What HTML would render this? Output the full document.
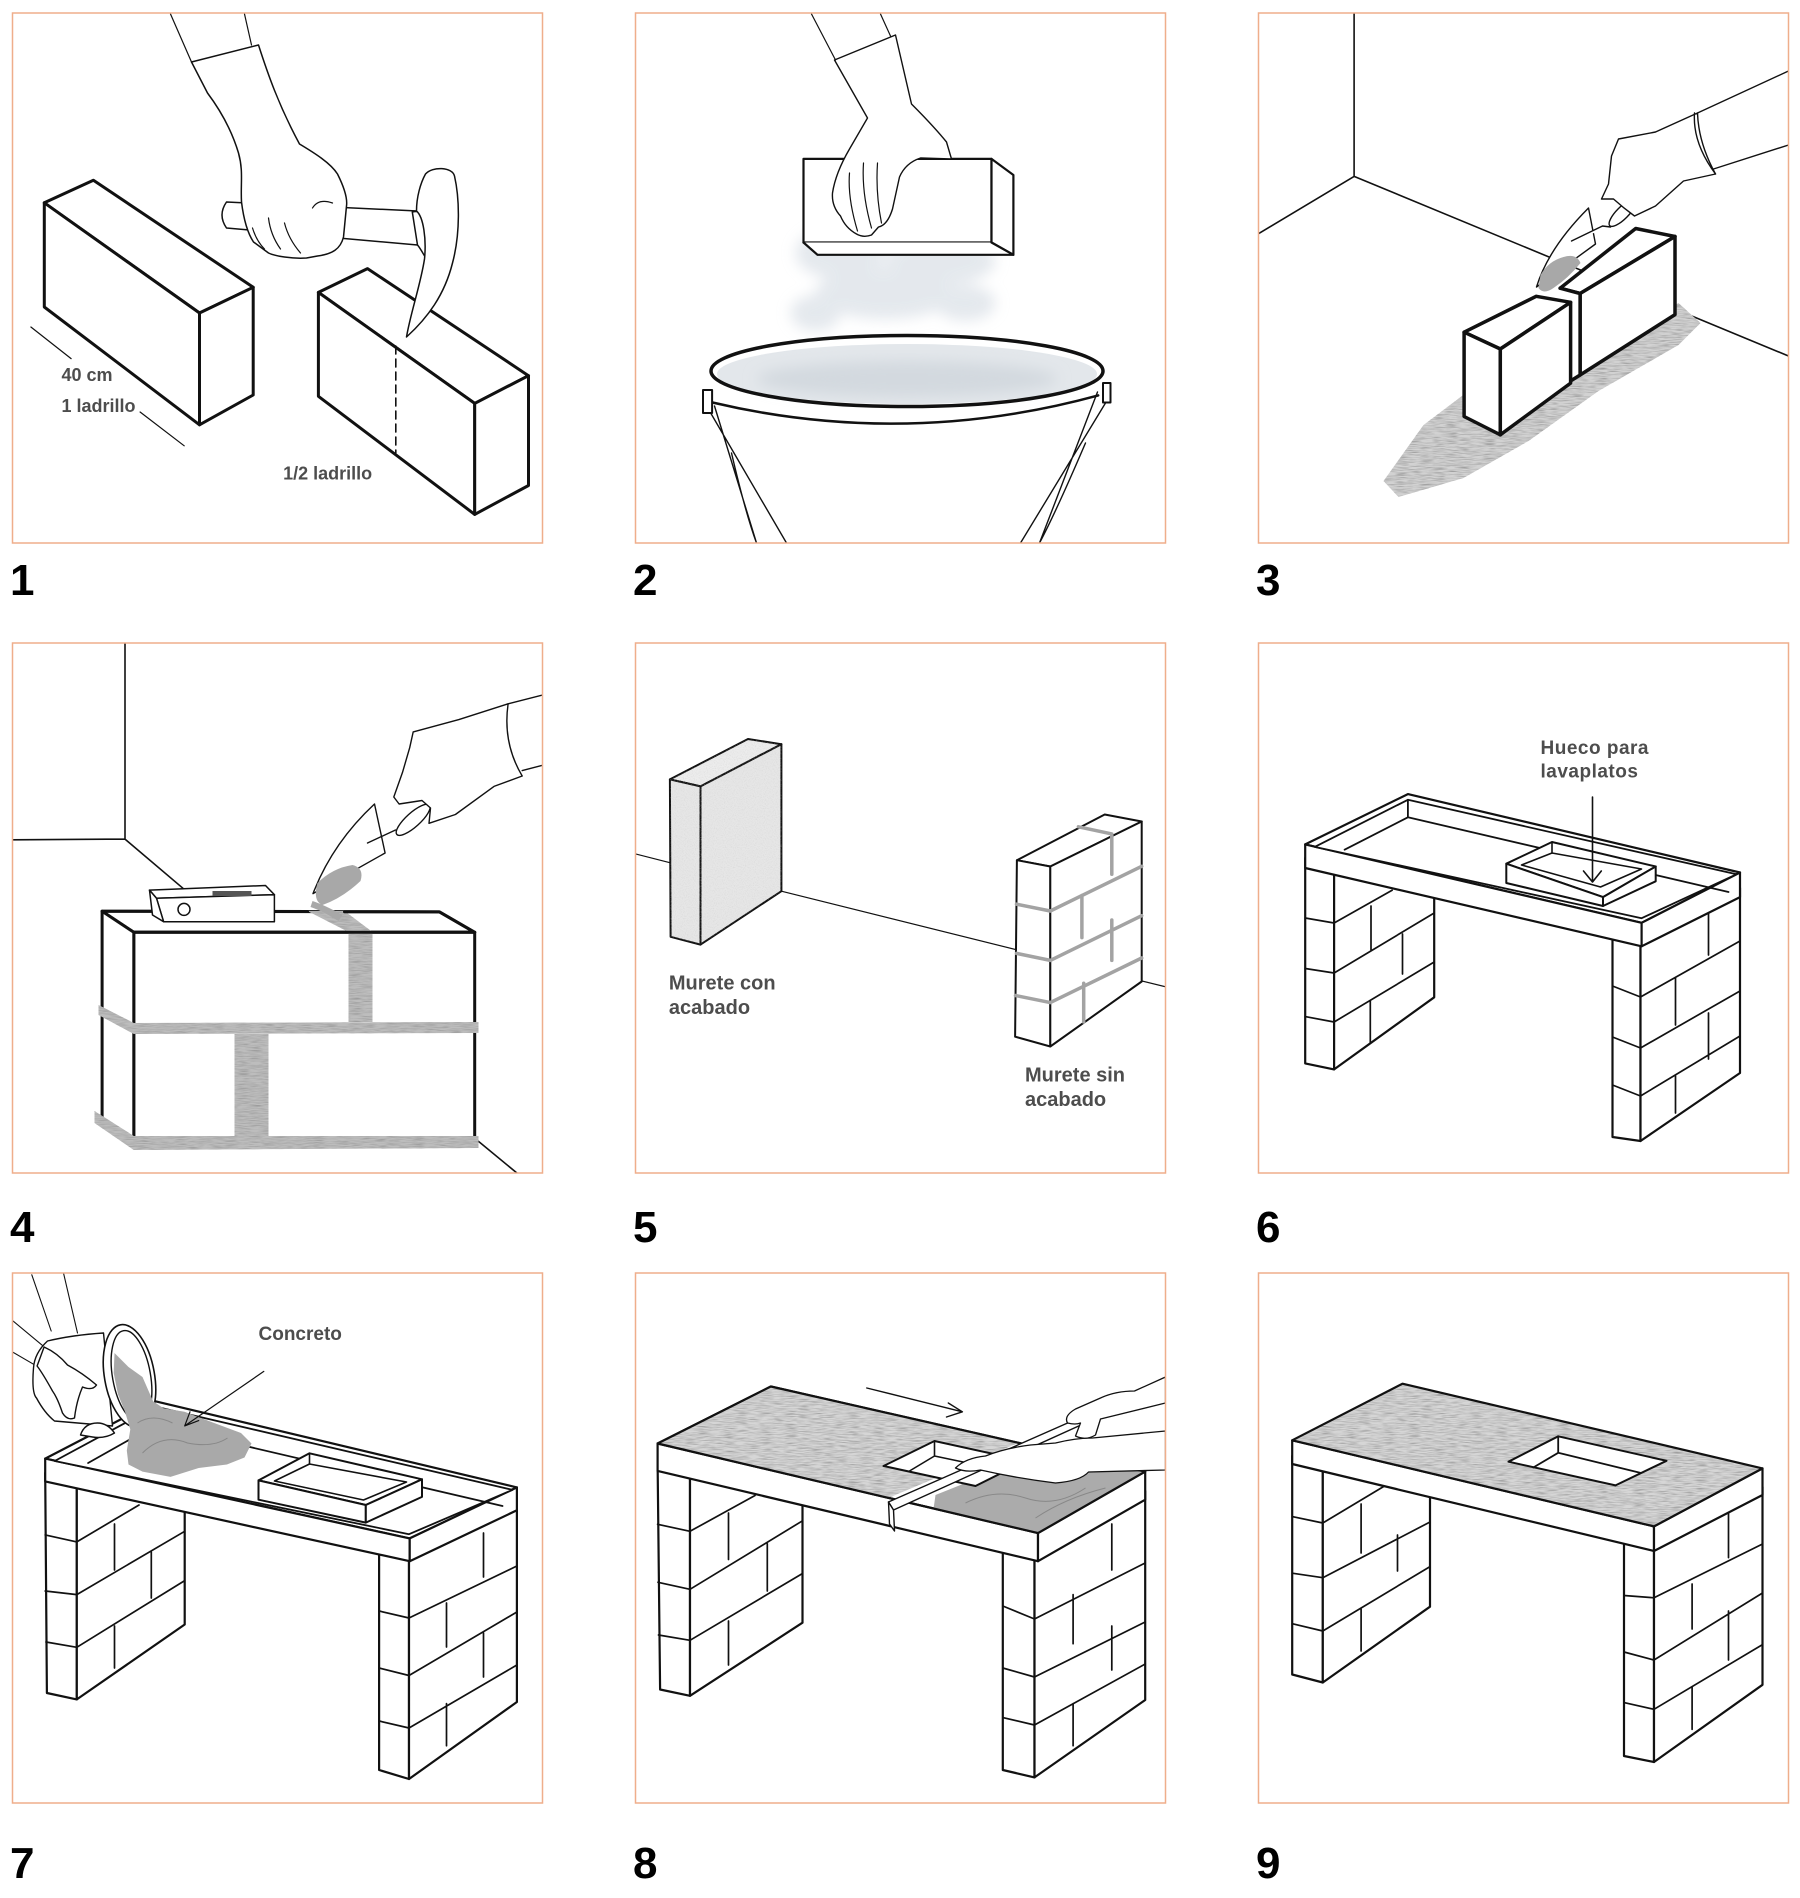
<!DOCTYPE html>
<html><head><meta charset="utf-8"><style>
html,body{margin:0;padding:0;background:#fff;}
svg{display:block;}
.b{fill:none;stroke:#efae8b;stroke-width:1.5}
.k{fill:#fff;stroke:#111;stroke-linejoin:round;stroke-linecap:round}
.l{fill:none;stroke:#111;stroke-linecap:round;stroke-linejoin:round}
.t{font-family:"Liberation Sans",sans-serif;font-weight:bold;fill:#4d4d4d}
.n{font-family:"Liberation Sans",sans-serif;font-weight:bold;fill:#000;font-size:44px}
</style></head><body>
<svg width="1800" height="1898" viewBox="0 0 1800 1898" xmlns="http://www.w3.org/2000/svg">
<defs>
<clipPath id="pc"><rect x="0" y="0" width="530" height="530"/></clipPath>
<filter id="gr" x="0" y="0" width="1" height="1">
<feTurbulence type="fractalNoise" baseFrequency="0.08 1.3" numOctaves="2" seed="4" result="t"/>
<feColorMatrix in="t" type="matrix" values="0 0 0 0 0.32  0 0 0 0 0.32  0 0 0 0 0.32  2.3 0 0 0 -0.95" result="c"/>
<feComposite in="c" in2="SourceAlpha" operator="in"/>
</filter>
<filter id="gl" x="0" y="0" width="1" height="1">
<feTurbulence type="fractalNoise" baseFrequency="0.9" numOctaves="1" seed="7" result="t"/>
<feColorMatrix in="t" type="matrix" values="0 0 0 0 0.6  0 0 0 0 0.6  0 0 0 0 0.6  1.2 0 0 0 -0.55" result="c"/>
<feComposite in="c" in2="SourceAlpha" operator="in"/>
</filter>
<filter id="bl" x="-30%" y="-30%" width="160%" height="160%"><feGaussianBlur stdDeviation="7"/></filter>
</defs>
<rect width="1800" height="1898" fill="#fff"/>

<!-- PANEL 1 -->
<g transform="translate(12.5,13)">
<g clip-path="url(#pc)">
<g class="k" stroke-width="3">
<path d="M31.8,189.8 L80.9,167.3 L240.7,274.3 L187,300 Z"/>
<path d="M31.8,189.8 L187,300 L187,411.8 L31.8,294 Z"/>
<path d="M187,300 L240.7,274.3 L240.7,382 L187,411.8 Z"/>
<path d="M305.9,279.4 L355,255.6 L516,362.7 L462.2,390.4 Z"/>
<path d="M305.9,279.4 L462.2,390.4 L462.2,501.4 L305.9,383.3 Z"/>
<path d="M462.2,390.4 L516,362.7 L516,472.5 L462.2,501.4 Z"/>
</g>
<path class="l" d="M383.3,333 L383.3,440" stroke-width="1.6" stroke-dasharray="8 5"/>
<path class="l" d="M18.4,314 L58.6,345.6 M127.6,399 L171.7,432.8" stroke-width="1.2"/>
<g class="k" stroke-width="1.5">
<path d="M214,189 L405,198 L405,232 L214,215 Q205,202 214,189 Z"/>
<path d="M399.8,199 C412,196 420,205 421,244 C418,260 412,240 405,232 Z"/>
<path d="M413,161 C420,153 440,154 442,163 C447,185 448,220 440,250 C432,282 415,305 394,324 C398,300 408,272 412,246 C414,226 411,204 404,198 C404,184 408,170 413,161 Z"/>
<path d="M179,49 L246,32 C255,60 266,92 287,131 C302,140 318,150 325,161 C332,175 335,186 334,193 L331,224 C328,236 320,241 305,243 L294,245 C280,246 262,243 256,240 L241,229 C235,220 231,205 229,189 C228,170 231,158 226,140 C220,120 210,100 195,80 Z"/>
</g>
<path class="l" stroke-width="1.2" d="M158,1 L179,49 M232,1 L239,32 M240,215 Q244,228 252,236 M256,205 Q258,222 268,236 M272,210 Q276,226 288,240 M300,195 Q306,185 320,190"/>
<text class="t" x="49" y="368" font-size="18">40 cm</text>
<text class="t" x="49" y="399" font-size="18">1 ladrillo</text>
<text class="t" x="270.6" y="466.5" font-size="18">1/2 ladrillo</text>
</g>
<rect class="b" x="0" y="0" width="530" height="530"/>
</g>

<!-- PANEL 2 -->
<g transform="translate(635.5,13)">
<g clip-path="url(#pc)">
<g filter="url(#bl)" fill="#d3dae2" opacity="0.6">
<ellipse cx="205" cy="240" rx="45" ry="26"/>
<ellipse cx="305" cy="248" rx="55" ry="24"/>
<ellipse cx="250" cy="280" rx="70" ry="26"/>
<ellipse cx="180" cy="300" rx="25" ry="18"/>
<ellipse cx="330" cy="290" rx="30" ry="18"/>
<ellipse cx="270" cy="218" rx="90" ry="12"/>
</g>
<ellipse cx="271.5" cy="361" rx="190" ry="30" fill="#e3e7eb"/>
<ellipse cx="271.5" cy="366" rx="150" ry="18" fill="#d3d9df" filter="url(#bl)"/>
<g class="k" stroke-width="2.2">
<path d="M168,145.9 L356,145.9 L356,229.5 L168,229.5 Z"/>
<path d="M356,145.9 L377.9,162 L377.9,241.8 L356,229.5 Z"/>
<path d="M168,229.5 L182,241.8 L377.9,241.8 L356,229.5"/>
</g>
<g class="k" stroke-width="1.4">
<path d="M199,47 L260,22 L276,91 Q298,113 311,129 L316,146 L285,145 Q270,150 264,164 L257,196 Q252,212 243,214 L236,222 Q228,225 221,221 Q210,215 205,203 Q196,193 197,180 Q200,160 214,136 L232,105 Z"/>
</g>
<path class="l" stroke-width="1.2" d="M176,1 L200,47 M245,1 L255,23 M214,160 Q212,185 222,218 M228,150 Q226,180 236,215 M242,150 Q240,180 246,210"/>
<path class="l" stroke-width="1.4" fill="none" d="M79,393 L121,530 M462,379 L404,530 M74,398 L151,530 M470,390 L385,530 M96,440 Q110,500 121,530 M450,430 Q420,500 404,530"/>
<path class="l" stroke-width="2.5" d="M77,389.5 Q270,435 462.7,382.4"/>
<ellipse cx="271.5" cy="358" rx="196" ry="35.5" fill="none" stroke="#111" stroke-width="3.5"/>
<path class="k" stroke-width="2" d="M67.5,377 L76.6,377 L76.6,400 L67.5,400 Z M467.5,370 L475,370 L475,389.5 L467.5,389.5 Z"/>
</g>
<rect class="b" x="0" y="0" width="530" height="530"/>
</g>

<!-- PANEL 3 -->
<g transform="translate(1258.5,13)">
<g clip-path="url(#pc)">
<path class="l" stroke-width="1.6" d="M95.6,0 L95.6,163.4 L0,220.7 M95.6,163.4 L530,343"/>
<path fill="#d2d2d2" d="M125,468 L165,412 L210,378 L300,350 L420,290 L442,310 L420,332 L340,378 L270,428 L205,465 L140,484 Z"/>
<path fill="#d2d2d2" filter="url(#gr)" d="M125,468 L165,412 L210,378 L300,350 L420,290 L442,310 L420,332 L340,378 L270,428 L205,465 L140,484 Z"/>
<g class="k" stroke-width="3.5">
<path d="M301.6,275.2 L377.2,215.5 L416.5,223.5 L321.6,280.5 Z"/>
<path d="M321.6,280.5 L416.5,223.5 L416.5,301.6 L321.6,362 Z"/>
<path d="M301.6,275.2 L321.6,280.5 L321.6,362 L312,368"/>
<path d="M205.6,319.2 L277.7,283.3 L312.1,289.3 L241.8,336 Z"/>
<path d="M205.6,319.2 L241.8,336 L241.8,421.8 L205.6,403.5 Z"/>
<path d="M241.8,336 L312.1,289.3 L312.1,370.1 L241.8,421.8 Z"/>
</g>
<g class="k" stroke-width="1.4">
<path d="M330,195 L337,231 L278,274 Q290,235 330,195 Z"/>
<path d="M313,228 L344,213 L352,214"/>
<ellipse cx="364" cy="200" rx="18" ry="6" transform="rotate(-45 364 200)"/>
<path d="M439,100 L397,119 L360,126 L353,143 L350,171 L343,186 L355,186 Q365,195 376,203 L397,193 L425,168 L457,161 Q440,130 439,100 Z"/>
</g>
<path fill="#a8a8a8" d="M282,262 Q290,248 305,244 Q318,240 322,250 Q310,265 295,275 Q285,282 280,275 Z"/>
<path class="l" stroke-width="1.4" d="M530,58 L439,100 M530,132 L455,156 M436,100 Q434,130 457,161"/>
</g>
<rect class="b" x="0" y="0" width="530" height="530"/>
</g>

<!-- PANEL 4 -->
<g transform="translate(12.5,643)">
<g clip-path="url(#pc)">
<path class="l" stroke-width="1.6" d="M112.5,0 L112.5,196.1 L0,196.8 M112.5,196.1 L170.5,245.3 M464,496.7 L504.4,530"/>
<g class="k" stroke-width="3">
<path d="M89.6,268.2 L427,268.9 L462.2,289.3 L121.3,289.3 Z"/>
<path d="M121.3,289.3 L462.2,289.3 L462.2,497 L121.3,497 Z"/>
<path d="M89.6,268.2 L121.3,289.3 L121.3,497 L89.6,475.6 Z"/>
</g>
<g fill="#bdbdbd">
<path d="M86,362 L121.3,380 L466,379 L466,390 L121.3,391 L86,372 Z"/>
<path d="M82,468 L121.3,493 L466,493 L466,505 L121.3,507 L82,480 Z"/>
<path d="M295,268 L332,268 L360,289 L360,379 L336,379 L336,289 Z"/>
<path d="M222,391 L256,391 L256,497 L222,497 Z"/>
</g>
<g fill="#bdbdbd" filter="url(#gr)">
<path d="M86,362 L121.3,380 L466,379 L466,390 L121.3,391 L86,372 Z"/>
<path d="M82,468 L121.3,493 L466,493 L466,505 L121.3,507 L82,480 Z"/>
<path d="M295,268 L332,268 L360,289 L360,379 L336,379 L336,289 Z"/>
<path d="M222,391 L256,391 L256,497 L222,497 Z"/>
</g>
<path class="l" stroke-width="3" d="M89.6,268.2 L295,268.5 M332,268.7 L427,268.9 L462.2,289.3 M121.3,289.3 L462.2,289.3"/>
<g class="k" stroke-width="1.5">
<path d="M137,247.1 L253,242.5 L261.9,251.7 L144,255.2 Z"/>
<path d="M144,255.2 L261.9,251.7 L261.9,278.7 L151.1,278.7 Z"/>
<path d="M137,247.1 L144,255.2 L151.1,278.7 L140,272 Z"/>
<circle cx="171.5" cy="266.4" r="6"/>
</g>
<rect x="200" y="248" width="39" height="5" fill="#555"/>
<g class="k" stroke-width="1.4">
<path d="M362,161 L372.6,210 L300.5,250.6 Q320,200 362,161 Z"/>
<path d="M355,200 L383,187"/>
<ellipse cx="400.7" cy="176.8" rx="22" ry="7" transform="rotate(-42 400.7 176.8)"/>
<path d="M495.6,60.8 L446.4,76.6 L400.7,88.9 L397.2,104.7 L390,129.4 L381.3,154 L386.6,161 L409.5,157.5 L418,165 L416.5,180.3 L442.9,171.5 L481.5,143.4 L509.7,133 Q490,100 495.6,60.8 Z"/>
</g>
<path class="l" stroke-width="1.4" d="M530,52 L495.6,60.8 M530,122.3 L509.7,127.6"/>
<path fill="#a8a8a8" d="M305,240 Q320,225 340,222 Q352,225 348,238 Q330,255 310,262 Q300,258 305,240 Z M300,258 Q312,262 330,272 L326,278 Q310,268 298,264 Z"/>
</g>
<rect class="b" x="0" y="0" width="530" height="530"/>
</g>

<!-- PANEL 5 -->
<g transform="translate(635.5,643)">
<g clip-path="url(#pc)">
<path class="l" stroke-width="1.2" d="M0,210.9 L34.4,219.7 M145.9,248.2 L530,343.8"/>
<g stroke="#111" stroke-width="2" stroke-linejoin="round" fill="#e6e6e6">
<path d="M34.4,136.4 L112.5,96 L145.9,101.2 L65,143.4 Z" fill="#ececec"/>
<path d="M34.4,136.4 L65,143.4 L65,301.6 L35.1,293.8 Z"/>
<path d="M65,143.4 L145.9,101.2 L145.9,248.2 L65,301.6 Z"/>
</g>
<g fill="#e6e6e6" filter="url(#gl)">
<path d="M34.4,136.4 L112.5,96 L145.9,101.2 L145.9,248.2 L65,301.6 L35.1,293.8 Z"/>
</g>
<g class="k" stroke-width="2">
<path d="M381.4,217.2 L469.2,171.5 L506.2,178.5 L414.8,223.5 Z"/>
<path d="M381.4,217.2 L414.8,223.5 L414.8,403.5 L379.6,393.7 Z"/>
<path d="M414.8,223.5 L506.2,178.5 L506.2,338.5 L414.8,403.5 Z"/>
</g>
<path fill="none" stroke="#a3a3a3" stroke-width="3.5" stroke-linecap="round" d="M381,261.2 L414.8,268 L506.2,223.3 M381,310.4 L414.8,317.4 L506.2,272.7 M380,352.5 L414.8,359.6 L506.2,315 M442.9,183.8 L476.3,190.9 M476.3,191 L476.3,231.3 M446.4,252.4 L446.4,294.6 M476.3,277 L476.3,317.4 M448.2,340.2 L448.2,379"/>
<text class="t" x="33.4" y="346.5" font-size="20">Murete con</text>
<text class="t" x="33.4" y="371" font-size="20">acabado</text>
<text class="t" x="389.5" y="438.7" font-size="20">Murete sin</text>
<text class="t" x="389.5" y="463" font-size="20">acabado</text>
</g>
<rect class="b" x="0" y="0" width="530" height="530"/>
</g>

<!-- PANEL 6 -->
<g transform="translate(1258.5,643)">
<g clip-path="url(#pc)">
<g class="k" stroke-width="2.2">
<path d="M46.7,215 L75.6,222 L75.6,426.4 L46.7,420.4 Z"/>
<path d="M75.6,222 L175.7,246 L175.7,354.3 L75.6,426.4 Z"/>
<path d="M354,290 L382,296 L382,498 L354,494 Z"/>
<path d="M382,296 L481.5,245 L481.5,430 L382,498 Z"/>
</g>
<path class="l" stroke-width="1.7" d="M46.7,275 L75.6,280 L133.6,247.3 M46.7,325.5 L75.6,330 L175.7,270 M46.7,373.6 L75.6,379 L175.7,319 M112.5,263 L112.5,307 M144,291 L144,331 M111.8,358 L111.8,400 M354,343 L382,354 L481.5,298 M354,394 L382,405 L481.5,348 M354,442 L382,453 L481.5,393 M450,270 L450,312 M417,335 L417,382 M450,370 L450,416 M417,433 L417,470"/>
<g class="k" stroke-width="2.2">
<path d="M46.7,201.4 L149.4,151.1 L481.5,229.5 L383.1,279.8 Z"/>
<path d="M46.7,201.4 L383.1,279.8 L383.1,303.3 L46.7,225 Z"/>
<path d="M383.1,279.8 L481.5,229.5 L481.5,254.1 L383.1,303.3 Z"/>
<path d="M56.2,203.9 L149.4,156.8 L478,231.3 L383.1,275.2 Z" stroke-width="1.8"/>
</g>
<path class="l" stroke-width="1.8" d="M149.4,156.8 L149.4,174.3 L86.1,206.7 M149.4,174.3 L470,249"/>
<g class="k" stroke-width="2">
<path d="M247.8,220.7 L293.5,199 L397.2,223.5 L344.5,254.1 Z"/>
<path d="M247.8,220.7 L344.5,254.1 L344.5,263 L247.8,240 Z"/>
<path d="M344.5,254.1 L397.2,223.5 L397.2,238.3 L344.5,263 Z"/>
<path d="M263,222 L293.5,210 L383,226 L342,244 Z" stroke-width="1.6"/>
</g>
<path class="l" stroke-width="1.6" d="M293.5,199 L293.5,210 M334,154 L334,239 M325,228 L334,239 L342.8,228"/>
<text class="t" x="282" y="111" font-size="19" letter-spacing="0.5">Hueco para</text>
<text class="t" x="282" y="134.6" font-size="19" letter-spacing="0.5">lavaplatos</text>
</g>
<rect class="b" x="0" y="0" width="530" height="530"/>
</g>

<!-- PANEL 7 -->
<g transform="translate(12.5,1273)">
<g clip-path="url(#pc)">
<g class="k" stroke-width="2.2">
<path d="M32.7,200 L64.3,207 L64.3,426.4 L34.4,420 Z"/>
<path d="M64.3,207 L172.2,232 L172.2,351.5 L64.3,426.4 Z"/>
<path d="M366.6,275 L396.5,281 L396.5,506 L366.6,497 Z"/>
<path d="M396.5,281 L504.4,228 L504.4,429 L396.5,506 Z"/>
</g>
<path class="l" stroke-width="1.7" d="M32.7,261.9 L64.3,268.9 L126.5,232 M32.7,318 L64.3,321.6 L172.2,258.3 M33.5,369 L64.3,374.3 L172.2,307.6 M102,251 L102,297 M138.8,279 L138.8,325 M102,353 L102,395 M366.6,338 L396.5,345 L504.4,293 M366.6,395 L396.5,402.5 L504.4,339 M366.6,448 L396.5,455 L504.4,392 M471,260 L471,304 M434,330 L434,374 M471,360 L471,404 M434,430.6 L434,472.8"/>
<g class="k" stroke-width="2.2">
<path d="M32.7,185.6 L143,128.3 L504.4,214.4 L397.2,265.4 Z"/>
<path d="M32.7,185.6 L397.2,265.4 L397.2,288.2 L32.7,208.4 Z"/>
<path d="M397.2,265.4 L504.4,214.4 L504.4,237.3 L397.2,288.2 Z"/>
<path d="M42.2,188 L143,133.6 L500,216.9 L396.5,261.2 Z" stroke-width="1.8"/>
</g>
<path class="l" stroke-width="1.8" d="M143,133.6 L143,152 L75.6,190 M143,152 L490,233"/>
<g class="k" stroke-width="2">
<path d="M246,207.4 L297,180.3 L409.5,206.3 L353.3,232 Z"/>
<path d="M246,207.4 L353.3,232 L353.3,249.6 L246,226.7 Z"/>
<path d="M353.3,232 L409.5,206.3 L409.5,223.9 L353.3,249.6 Z"/>
<path d="M262,208 L297,191 L394,209 L351,227 Z" stroke-width="1.6"/>
</g>
<path class="l" stroke-width="1.6" d="M297,180.3 L297,191"/>
<path class="l" stroke-width="1.1" d="M51,0 L65,60 M19.3,1.8 L38.7,58 M0,47.5 L31.6,73.8 M0,79 L24.6,93.3"/>
<path class="k" stroke-width="1.4" d="M91,60 Q60,62 35,68 Q22,80 21,95 Q19,120 24,125 Q32,140 42,148 L100,153 Z"/>
<path class="k" stroke-width="1.4" d="M31.6,74 Q45,80 55,92 Q70,100 84,112 Q80,118 70,114 Q64,128 62,145 Q55,148 50,140 Q45,125 40,118 Q30,100 24.6,93 Z"/>
<path class="k" stroke-width="1.4" d="M68,162 Q72,150 85,150 Q95,150 102,160 Q92,166 80,164 Z"/>
<ellipse cx="117" cy="103" rx="25" ry="52" transform="rotate(-10 117 103)" class="k" stroke-width="1.6"/>
<ellipse cx="119" cy="103" rx="19" ry="46" transform="rotate(-10 119 103)" fill="none" stroke="#111" stroke-width="1.4"/>
<path fill="#a9a9a9" d="M102,80 L116,94 L130,104 L140.6,128.3 L151,135.3 L172,138.8 L200,149.4 L228.5,160 L239,170.5 L232,184.5 L214.4,191.5 L186.2,195 L158,203.9 L130,198.6 L116,191.5 L114.3,177.5 L117.8,156.4 L112.5,138.8 L105.4,121 L101.2,100 Z"/>
<path fill="none" stroke="#888" stroke-width="1" d="M130,180 Q150,160 175,170 Q200,175 215,165 M125,150 Q140,140 160,150"/>
<path class="l" stroke-width="1.2" d="M251.3,98.4 L172.2,152.9 M177.5,138.8 L172.2,152.9 L186.2,147.6"/>
<text class="t" x="246" y="66.8" font-size="19">Concreto</text>
</g>
<rect class="b" x="0" y="0" width="530" height="530"/>
</g>

<!-- PANEL 8 -->
<g transform="translate(635.5,1273)">
<g clip-path="url(#pc)">
<g class="k" stroke-width="2.2">
<path d="M22.1,190 L54.5,197 L54.5,422.8 L24.6,416.5 Z"/>
<path d="M54.5,197 L167,222 L167,349.7 L54.5,422.8 Z"/>
<path d="M367.3,272 L399,279 L399,504.4 L367.3,497 Z"/>
<path d="M399,279 L509.7,218 L509.7,427 L399,504.4 Z"/>
</g>
<path class="l" stroke-width="1.7" d="M22.1,251.3 L54.5,258.3 L119.5,222.5 M22.5,309.3 L54.5,316.3 L167,247.8 M23,362 L54.5,367.3 L167,300.5 M93,240 L93,286.5 M131.8,270.7 L131.8,318 M93,348 L93,392 M367.3,333 L399,346 L509.7,290 M367.3,395 L399,404 L509.7,349 M367.3,444.6 L399,452 L509.7,391 M476.3,251 L476.3,297 M437.6,321.6 L437.6,370.8 M476.3,353 L476.3,397 M437.6,430.6 L437.6,472.8"/>
<g class="k" stroke-width="2.2">
<path d="M22.1,170.5 L135.3,113.5 L509.7,198.6 L402.5,260.1 Z"/>
<path d="M22.1,170.5 L402.5,260.1 L402.5,288.2 L22.1,197.9 Z"/>
<path d="M402.5,260.1 L509.7,198.6 L509.7,226.7 L402.5,288.2 Z"/>
</g>
<path fill="#d6d6d6" d="M22.1,170.5 L135.3,113.5 L384.6,169.2 L253,225 Z"/>
<path fill="#d6d6d6" filter="url(#gr)" d="M22.1,170.5 L135.3,113.5 L384.6,169.2 L253,225 Z"/>
<path fill="#ababab" d="M300,222 L325,212 L345,200 L380,195 L430,196 L509.7,198.6 L402.5,260.1 L330,243 L298,236 Z"/>
<path fill="none" stroke="#888" stroke-width="1" d="M330,230 Q360,215 390,225 Q420,235 450,215 M400,245 Q430,225 470,215"/>
<path class="l" stroke-width="2.2" d="M22.1,170.5 L135.3,113.5 L509.7,198.6 L402.5,260.1 Z"/>
<path class="k" stroke-width="2" d="M248,193 L299,168 L390,188 L340,213 Z"/>
<path class="l" stroke-width="1.6" d="M299,168 L299,183 L274,198 M299,183 L380,200"/>
<path class="k" stroke-width="1.4" d="M253,229 L448,143 L452,149 L258,237 Z"/>
<path class="k" stroke-width="1.4" d="M253,229 L258,237 L259,258 L254,251 Z"/>
<path class="k" stroke-width="1.3" d="M453,199 L530,197 L530,158 L457,165 Q440,165 420,170 L395,172 Q370,175 350,183 Q330,185 320,195 Q330,200 345,197 Q380,205 420,210 Q445,208 453,199 Z"/>
<path class="k" stroke-width="1.3" d="M499,118 Q480,118 465,125 L440,136 Q428,143 432,150 Q440,152 445,150 L440,163 Q450,168 460,162 L465,146 L530,130 L530,104 Z"/>
<path class="l" stroke-width="1.4" d="M231.3,115 L326.9,138.8 M312.8,130 L326.9,138.8 L311,144"/>
</g>
<rect class="b" x="0" y="0" width="530" height="530"/>
</g>

<!-- PANEL 9 -->
<g transform="translate(1258.5,1273)">
<g clip-path="url(#pc)">
<g class="k" stroke-width="2.2">
<path d="M33.7,183 L64.3,190 L64.3,409.5 L33.7,401.5 Z"/>
<path d="M64.3,190 L171.5,214 L171.5,333.7 L64.3,409.5 Z"/>
<path d="M365.5,262 L395.5,270 L395.5,489 L365.5,483 Z"/>
<path d="M395.5,270 L504,214 L504,411.8 L395.5,489 Z"/>
</g>
<path class="l" stroke-width="1.7" d="M33.7,243.6 L64.3,250 L126,213 M33.7,300.2 L64.3,304.7 L171.5,249 M33.7,350.7 L64.3,358 L171.5,293.6 M102.6,231 L102.6,280 M139,262 L139,298 M102.6,336 L102.6,378 M365.5,322.5 L395.5,324.8 L504,271 M365.5,379 L395.5,387 L504,320 M365.5,429.6 L395.5,436.3 L504,371.6 M470,240 L470,284.6 M433.6,311 L433.6,356 M470,338 L470,387 M433.6,414 L433.6,456.4"/>
<g class="k" stroke-width="2.2">
<path d="M33.7,167.3 L395.5,253.4 L395.5,278 L33.7,191 Z"/>
<path d="M395.5,253.4 L504,195.4 L504,222 L395.5,278 Z"/>
</g>
<path fill="#d6d6d6" d="M33.7,167.3 L144,110.7 L504,195.4 L395.5,253.4 Z"/>
<path fill="#d6d6d6" filter="url(#gr)" d="M33.7,167.3 L144,110.7 L504,195.4 L395.5,253.4 Z"/>
<path class="l" stroke-width="2.2" d="M33.7,167.3 L144,110.7 L504,195.4 L395.5,253.4 Z"/>
<path class="k" stroke-width="2" d="M250,188.7 L299.7,163.3 L408,187.8 L357,212.4 Z"/>
<path class="l" stroke-width="1.8" d="M299.7,163.3 L299.7,179.8 L274.8,194.5 M299.7,179.8 L382,199.9"/>
</g>
<rect class="b" x="0" y="0" width="530" height="530"/>
</g>

<text class="n" x="10" y="595">1</text>
<text class="n" x="633" y="595">2</text>
<text class="n" x="1256" y="595">3</text>
<text class="n" x="10" y="1242">4</text>
<text class="n" x="633" y="1242">5</text>
<text class="n" x="1256" y="1242">6</text>
<text class="n" x="10" y="1878">7</text>
<text class="n" x="633" y="1878">8</text>
<text class="n" x="1256" y="1878">9</text>
</svg>
</body></html>
